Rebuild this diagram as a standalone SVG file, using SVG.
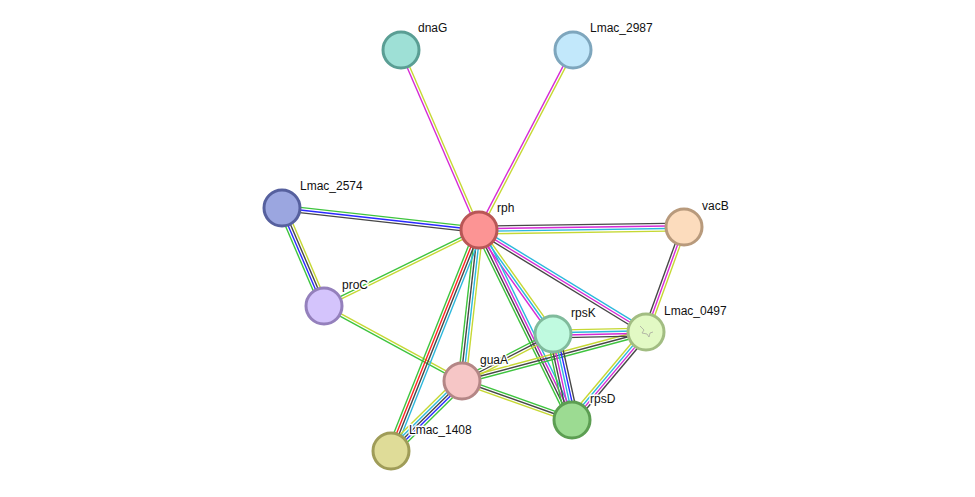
<svg xmlns="http://www.w3.org/2000/svg" width="975" height="497" viewBox="0 0 975 497">
<style>
line{stroke-width:1.4;fill:none}
.g{stroke:#3ec43e}.r{stroke:#ff2424}.b{stroke:#2a2aff}.k{stroke:#474747}.m{stroke:#d62ad6}.c{stroke:#2cb8dc}.y{stroke:#c6d834}
.n{stroke-width:3}
text{font-family:"Liberation Sans",Arial,sans-serif;font-size:12px;fill:#111;stroke:#fff;stroke-width:3;paint-order:stroke;stroke-linejoin:round}
</style>
<rect width="975" height="497" fill="#fff"/>
<g id="edges">
<g transform="translate(401,50) rotate(66.57)"><line x2="196.2" y1="1.3" y2="1.3" class="m"/><line x2="196.2" y1="-1.3" y2="-1.3" class="y"/></g>
<g transform="translate(479,230) rotate(-62.43)"><line x2="203.1" y1="-1.3" y2="-1.3" class="m"/><line x2="203.1" y1="1.3" y2="1.3" class="y"/></g>
<g transform="translate(282,208) rotate(6.37)"><line x2="198.2" y1="-2.6" y2="-2.6" class="g"/><line x2="198.2" class="b"/><line x2="198.2" y1="2.6" y2="2.6" class="k"/></g>
<g transform="translate(282,208) rotate(66.8)"><line x2="106.6" y1="3.9" y2="3.9" class="g"/><line x2="106.6" y1="1.3" y2="1.3" class="b"/><line x2="106.6" y1="-1.3" y2="-1.3" class="k"/><line x2="106.6" y1="-3.9" y2="-3.9" class="y"/></g>
<g transform="translate(324,306) rotate(-26.12)"><line x2="172.6" y1="-1.3" y2="-1.3" class="g"/><line x2="172.6" y1="1.3" y2="1.3" class="y"/></g>
<g transform="translate(324,306) rotate(28.52)"><line x2="157.1" y1="-1.3" y2="-1.3" class="y"/><line x2="157.1" y1="1.3" y2="1.3" class="g"/></g>
<g transform="translate(479,230) rotate(-0.84)"><line x2="205" y1="-3.9" y2="-3.9" class="k"/><line x2="205" y1="-1.3" y2="-1.3" class="m"/><line x2="205" y1="1.3" y2="1.3" class="c"/><line x2="205" y1="3.9" y2="3.9" class="y"/></g>
<g transform="translate(684,227) rotate(109.9)"><line x2="111.7" y1="2.6" y2="2.6" class="k"/><line x2="111.7" class="m"/><line x2="111.7" y1="-2.6" y2="-2.6" class="y"/></g>
<g transform="translate(479,230) rotate(31.42)"><line x2="195.7" y1="-2.6" y2="-2.6" class="c"/><line x2="195.7" class="m"/><line x2="195.7" y1="2.6" y2="2.6" class="k"/></g>
<g transform="translate(479,230) rotate(54.57)"><line x2="127.6" y1="2.6" y2="2.6" class="m"/><line x2="127.6" class="c"/><line x2="127.6" y1="-2.6" y2="-2.6" class="y"/></g>
<g transform="translate(479,230) rotate(63.92)"><line x2="211.5" y1="3.9" y2="3.9" class="g"/><line x2="211.5" y1="1.3" y2="1.3" class="k"/><line x2="211.5" y1="-1.3" y2="-1.3" class="m"/><line x2="211.5" y1="-3.9" y2="-3.9" class="c"/></g>
<g transform="translate(479,230) rotate(96.42)"><line x2="152" y1="3.9" y2="3.9" class="g"/><line x2="152" y1="1.3" y2="1.3" class="k"/><line x2="152" y1="-1.3" y2="-1.3" class="c"/><line x2="152" y1="-3.9" y2="-3.9" class="y"/></g>
<g transform="translate(479,230) rotate(111.72)"><line x2="237.9" y1="3.9" y2="3.9" class="g"/><line x2="237.9" y1="1.3" y2="1.3" class="r"/><line x2="237.9" y1="-1.3" y2="-1.3" class="k"/><line x2="237.9" y1="-3.9" y2="-3.9" class="c"/></g>
<g transform="translate(462,381) rotate(135.4)"><line x2="99.7" y1="5.2" y2="5.2" class="y"/><line x2="99.7" y1="2.6" y2="2.6" class="c"/><line x2="99.7" class="k"/><line x2="99.7" y1="-2.6" y2="-2.6" class="b"/><line x2="99.7" y1="-5.2" y2="-5.2" class="g"/></g>
<g transform="translate(462,381) rotate(-27.31)"><line x2="102.4" y1="-2.6" y2="-2.6" class="g"/><line x2="102.4" class="k"/><line x2="102.4" y1="2.6" y2="2.6" class="y"/></g>
<g transform="translate(462,381) rotate(-14.91)"><line x2="190.4" y1="-2.6" y2="-2.6" class="y"/><line x2="190.4" class="k"/><line x2="190.4" y1="2.6" y2="2.6" class="g"/></g>
<g transform="translate(462,381) rotate(19.52)"><line x2="116.7" y1="-2.6" y2="-2.6" class="g"/><line x2="116.7" class="k"/><line x2="116.7" y1="2.6" y2="2.6" class="y"/></g>
<g transform="translate(553,334) rotate(77.54)"><line x2="88.1" y1="6.5" y2="6.5" class="g"/><line x2="88.1" y1="3.9" y2="3.9" class="k"/><line x2="88.1" y1="1.3" y2="1.3" class="m"/><line x2="88.1" y1="-1.3" y2="-1.3" class="c"/><line x2="88.1" y1="-3.9" y2="-3.9" class="b"/><line x2="88.1" y1="-6.5" y2="-6.5" class="k"/></g>
<g transform="translate(553,334) rotate(-1.23)"><line x2="93" y1="-3.9" y2="-3.9" class="y"/><line x2="93" y1="-1.3" y2="-1.3" class="c"/><line x2="93" y1="1.3" y2="1.3" class="m"/><line x2="93" y1="3.9" y2="3.9" class="k"/></g>
<g transform="translate(646,332) rotate(130.06)"><line x2="115" y1="3.9" y2="3.9" class="y"/><line x2="115" y1="1.3" y2="1.3" class="c"/><line x2="115" y1="-1.3" y2="-1.3" class="m"/><line x2="115" y1="-3.9" y2="-3.9" class="k"/></g>
</g>
<g id="dnaG"><circle cx="401" cy="50" r="18" class="n" fill="#9ee0d6" stroke="#5a9e94"/><text x="418" y="32">dnaG</text></g>
<g id="Lmac_2987"><circle cx="573" cy="50" r="18" class="n" fill="#c2e8fb" stroke="#7ea6bd"/><text x="590" y="32">Lmac_2987</text></g>
<g id="Lmac_2574"><circle cx="282" cy="208" r="18" class="n" fill="#9ba6e0" stroke="#56609e"/><text x="300" y="190">Lmac_2574</text></g>
<g id="rph"><circle cx="479" cy="230" r="18" class="n" fill="#fc9494" stroke="#b95656"/><text x="497" y="212">rph</text></g>
<g id="vacB"><circle cx="684" cy="227" r="18" class="n" fill="#fcdcbd" stroke="#b89a7c"/><text x="702" y="210">vacB</text></g>
<g id="proC"><circle cx="324" cy="306" r="18" class="n" fill="#d4c4fc" stroke="#9480bc"/><text x="342" y="289">proC</text></g>
<g id="rpsK"><circle cx="553" cy="334" r="18" class="n" fill="#c0fae0" stroke="#80bb9c"/><text x="571" y="317">rpsK</text></g>
<g id="Lmac_0497"><circle cx="646" cy="332" r="18" class="n" fill="#e2f9c4" stroke="#a2bd82"/><path d="M640 326 l4 4 l-2 3 l5 1 l2 3 l1 -4 l3 -1" fill="none" stroke="#a8a8a0" stroke-width="0.8"/><text x="664" y="315">Lmac_0497</text></g>
<g id="guaA"><circle cx="462" cy="381" r="18" class="n" fill="#f6c6c6" stroke="#b48686"/><text x="480" y="364">guaA</text></g>
<g id="rpsD"><circle cx="572" cy="420" r="18" class="n" fill="#9cdb92" stroke="#5c9e52"/><text x="590" y="403">rpsD</text></g>
<g id="Lmac_1408"><circle cx="391" cy="451" r="18" class="n" fill="#dfdc98" stroke="#9f9c58"/><text x="409" y="434">Lmac_1408</text></g>
</svg>
